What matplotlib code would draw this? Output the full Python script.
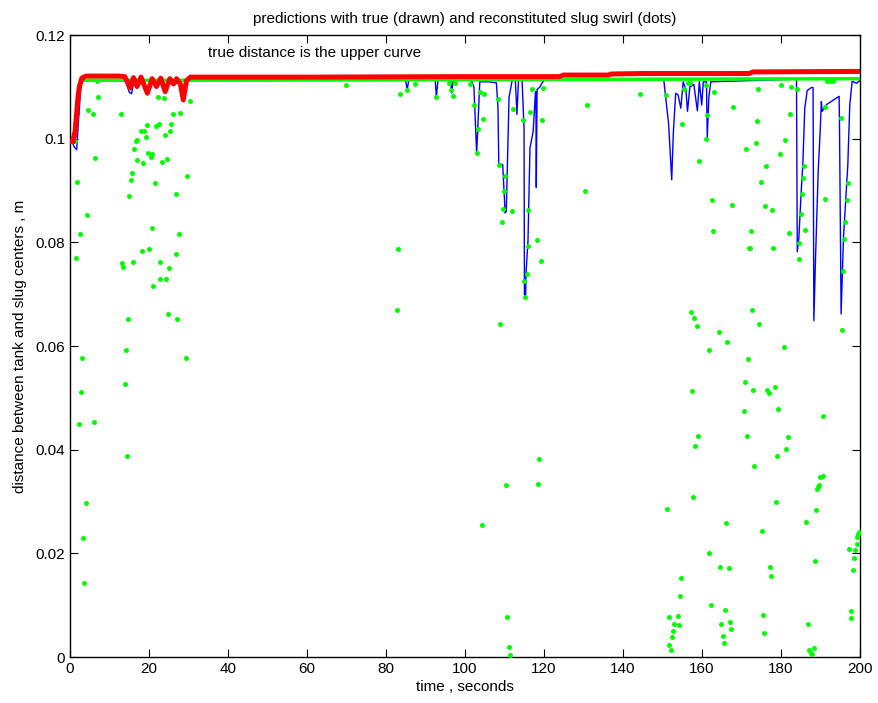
import matplotlib
matplotlib.use("Agg")
import matplotlib.pyplot as plt

plt.rcParams['font.family'] = ['Liberation Sans', 'DejaVu Sans']

# true distance (red, drawn)
true_t = [0.3, 0.7, 1.0, 1.3, 1.5, 1.7, 1.9, 2.1, 2.4, 3.0, 4.0, 12.5, 13.9, 15.2, 16.1,
          17.0, 18.0, 19.6, 20.8, 21.9, 23.0, 24.1, 25.3, 26.2, 27.0, 28.0, 28.7, 29.5,
          30.5, 60, 100, 124, 125, 136.5, 137, 145, 172, 173, 200]
true_v = [0.0995, 0.0995, 0.1005, 0.1014, 0.1033, 0.1050, 0.1069, 0.1085, 0.1101, 0.1117,
          0.1121, 0.1121, 0.1120, 0.1098, 0.1118, 0.1101, 0.1119, 0.1088, 0.1116, 0.1101,
          0.1117, 0.1091, 0.1116, 0.1106, 0.1116, 0.1105, 0.1075, 0.1112, 0.1119, 0.1119,
          0.1120, 0.1120, 0.1123, 0.1123, 0.1125, 0.1126, 0.1126, 0.1129, 0.1130]

# predicted distance (blue line)
pred_t = [0.3, 1.0, 1.7, 2.2, 2.8, 3.5, 12.5, 14.2, 15.0, 15.6, 16.2, 17.0, 18.0, 19.6,
          20.8, 21.9, 23.0, 24.1, 25.3, 26.5, 27.5, 28.7, 29.6, 30.5, 85.0, 85.4, 85.8,
          92.5, 92.8, 93.2, 96.4, 96.7, 97.0, 101.6, 102.3, 103.0, 103.8, 106.0, 108.0,
          108.4, 108.6, 109.6, 110.0, 110.2, 110.5, 111.2, 112.0, 112.8, 113.2, 113.6,
          114.5, 115.0, 115.1, 115.4, 115.5, 116.0, 116.5, 117.3, 117.9, 118.0, 118.1,
          118.3, 119.0, 120.0, 150.4, 150.8, 151.6, 152.4, 152.8, 153.4, 154.0,
          154.7, 155.3, 156.0, 156.4, 157.0, 158.0, 158.9, 159.4, 160.0, 160.4, 161.2,
          161.4, 161.8, 162.3, 184.0, 184.2, 184.6, 185.2, 185.6, 186.1, 186.7, 187.8,
          188.2, 188.4, 188.8, 189.5, 190.0, 190.3, 190.5, 191.6, 194.8, 194.9, 195.3,
          195.9, 197.0, 197.5, 198.1, 199.2, 200]
pred_v = [0.1000, 0.0985, 0.0979, 0.1040, 0.1105, 0.1113, 0.1113, 0.1110, 0.1090, 0.1087,
          0.1112, 0.1098, 0.1112, 0.1085, 0.1110, 0.1098, 0.1112, 0.1093, 0.1110, 0.1104,
          0.1112, 0.1078, 0.1110, 0.1113, 0.1113, 0.1095, 0.1113, 0.1113, 0.1081, 0.1113,
          0.1113, 0.1088, 0.1113, 0.1113, 0.1100, 0.0972, 0.1110, 0.1110, 0.1108, 0.1059,
          0.0952, 0.0950, 0.0890, 0.0857, 0.0860, 0.1080, 0.1113, 0.1113, 0.1047, 0.1113,
          0.1113, 0.1020, 0.0700, 0.0694, 0.0740, 0.0803, 0.0982, 0.1014, 0.1091, 0.1091,
          0.0906, 0.1095, 0.1100, 0.1113, 0.1113, 0.1085, 0.1030, 0.0921, 0.1010,
          0.1088, 0.1085, 0.1059, 0.1110, 0.1095, 0.1053, 0.1100, 0.1105, 0.1054, 0.1110,
          0.1065, 0.1110, 0.1110, 0.1002, 0.1080, 0.1110, 0.1115, 0.0782, 0.0809, 0.0899,
          0.0950, 0.1059, 0.1093, 0.1099, 0.1099, 0.0649, 0.0764, 0.0938, 0.1014, 0.1072,
          0.1053, 0.1066, 0.1082, 0.1021, 0.0662, 0.0809, 0.0950, 0.1066, 0.1111, 0.1107,
          0.1112]

# dense band of reconstituted dots just under the true curve
band_t = [3.0, 13.0, 30.0, 100.0, 150.0, 200.0]
band_v = [0.1113, 0.1113, 0.1113, 0.1114, 0.1115, 0.1116]

# scattered reconstituted dots (green)
dot_t = [0.7, 1.3, 6.75, 4.6, 5.9, 12.9, 7.0, 6.3, 22.2, 23.9, 27.8, 26.2, 25.6, 22.5,
         21.9, 19.6, 18.1, 18.7, 25.3, 24.1, 19.2, 17.1, 16.7, 16.2, 19.8, 20.9, 20.4,
         24.6, 16.9, 18.6, 1.85, 15.6, 15.4, 23.4, 29.7, 21.6, 15.0, 26.9, 4.2, 2.5,
         20.8, 27.6, 1.5, 18.3, 20.1, 26.8, 13.2, 13.5, 15.9, 22.7, 25.2, 22.8, 24.3,
         21.1, 14.8, 24.9, 27.2, 14.1, 3.0, 29.4, 2.7, 13.9, 2.2, 6.0, 14.4, 3.97, 3.4,
         3.6, 30.4,
         70.0, 82.8, 83.0, 83.5, 85.4, 87.4, 92.8,
         96.0, 97.5, 101.3, 97.0, 96.6, 102.4, 104.5, 103.4, 103.0, 103.8, 104.9, 108.4,
         112.3, 108.7, 110.2, 110.0, 109.6, 112.0, 109.3, 109.0, 114.7, 116.5, 119.6,
         116.9, 119.8, 116.1, 115.9, 118.3, 119.2, 115.7, 115.0, 115.3, 118.8, 110.5,
         118.6, 104.3, 110.8, 111.1, 111.5,
         131.0, 130.5, 144.4,
         150.9, 155.1, 155.4, 156.5, 157.0, 161.0, 163.2, 161.4, 161.1, 159.3, 167.9,
         171.2, 162.6, 167.7, 162.9, 171.9, 157.2, 158.1, 158.7, 164.4, 166.4, 161.8,
         171.8, 170.9, 157.6, 170.6, 159.0, 171.5, 158.4, 157.8, 151.2, 166.2, 161.9,
         164.6, 166.8, 154.8, 154.5, 162.3, 165.9, 151.6, 153.9, 153.1, 154.3, 164.9,
         167.1, 152.7, 167.4, 152.4, 165.3, 151.8, 165.7, 152.1,
         174.3, 180.0, 182.6, 184.1, 191.7, 192.5, 193.3, 191.3, 182.4, 195.2, 174.0,
         181.2, 173.7, 179.7, 176.3, 186.0, 185.6, 174.9, 197.0, 185.4, 191.1, 196.8,
         176.0, 177.8, 185.1, 196.4, 172.6, 182.0, 186.2, 196.1, 172.3, 178.1, 184.7,
         184.6, 195.8, 172.8, 174.6, 195.5, 180.8,
         173.0, 176.6, 178.5, 177.0, 179.3, 190.7, 181.9, 181.4, 179.1, 173.3, 190.0,
         190.6, 189.7, 189.5, 189.2, 178.8, 188.9, 186.5, 175.2, 199.8, 199.6, 199.3,
         199.2, 198.8, 197.3, 198.6, 198.2, 188.7, 177.3, 177.5, 197.9, 197.7, 175.5,
         186.8, 175.7, 187.2, 188.4, 187.6, 188.0]
dot_v = [0.1002, 0.0995, 0.1111, 0.1056, 0.1047, 0.1047, 0.1081, 0.0963, 0.1080, 0.1078,
         0.1050, 0.1047, 0.1028, 0.1028, 0.1024, 0.1027, 0.1016, 0.1016, 0.1016, 0.1007,
         0.1003, 0.0998, 0.0995, 0.0981, 0.0973, 0.0971, 0.0964, 0.0961, 0.0959, 0.0953,
         0.0916, 0.0934, 0.0920, 0.0955, 0.0929, 0.0914, 0.0890, 0.0894, 0.0853, 0.0816,
         0.0828, 0.0817, 0.0770, 0.0784, 0.0788, 0.0778, 0.0761, 0.0753, 0.0762, 0.0763,
         0.0750, 0.0730, 0.0730, 0.0716, 0.0653, 0.0661, 0.0653, 0.0593, 0.0577, 0.0577,
         0.0511, 0.0527, 0.0449, 0.0454, 0.0388, 0.0298, 0.0230, 0.0143, 0.1073,
         0.1103, 0.0670, 0.0788, 0.1087, 0.1095, 0.1105, 0.1081,
         0.1107, 0.1107, 0.1106, 0.1082, 0.1095, 0.1066, 0.1039, 0.1019, 0.0972, 0.1091,
         0.1087, 0.1076, 0.1057, 0.0950, 0.0929, 0.0900, 0.0865, 0.0860, 0.0840, 0.0642,
         0.1036, 0.1052, 0.1036, 0.1096, 0.1098, 0.0862, 0.0793, 0.0805, 0.0764, 0.0739,
         0.0726, 0.0694, 0.0382, 0.0332, 0.0334, 0.0255, 0.0077, 0.0020, 0.0003,
         0.1066, 0.0899, 0.1086,
         0.1085, 0.1029, 0.1097, 0.1107, 0.1108, 0.1103, 0.1090, 0.1045, 0.1000, 0.0958,
         0.1061, 0.0981, 0.0882, 0.0872, 0.0822, 0.0790, 0.0665, 0.0655, 0.0638, 0.0627,
         0.0607, 0.0593, 0.0576, 0.0530, 0.0514, 0.0474, 0.0427, 0.0426, 0.0407, 0.0309,
         0.0286, 0.0259, 0.0200, 0.0174, 0.0172, 0.0153, 0.0118, 0.0100, 0.0091, 0.0077,
         0.0080, 0.0063, 0.0061, 0.0064, 0.0067, 0.0051, 0.0054, 0.0038, 0.0041, 0.0023,
         0.0028, 0.0013,
         0.1097, 0.1104, 0.1100, 0.1097, 0.1112, 0.1112, 0.1112, 0.1061, 0.1047, 0.1040,
         0.1034, 0.0998, 0.0992, 0.0970, 0.0947, 0.0948, 0.0925, 0.0916, 0.0915, 0.0893,
         0.0884, 0.0882, 0.0871, 0.0863, 0.0854, 0.0839, 0.0822, 0.0819, 0.0824, 0.0806,
         0.0790, 0.0790, 0.0798, 0.0768, 0.0744, 0.0670, 0.0643, 0.0632, 0.0598,
         0.0515, 0.0516, 0.0521, 0.0509, 0.0478, 0.0465, 0.0424, 0.0402, 0.0388, 0.0368,
         0.0348, 0.0350, 0.0332, 0.0328, 0.0324, 0.0299, 0.0283, 0.0260, 0.0244, 0.0241,
         0.0237, 0.0231, 0.0219, 0.0207, 0.0209, 0.0192, 0.0168, 0.0186, 0.0173, 0.0157,
         0.0089, 0.0075, 0.0082, 0.0064, 0.0047, 0.0014, 0.0018, 0.0008, 0.0005]

x_ticks = [0, 20, 40, 60, 80, 100, 120, 140, 160, 180, 200]
y_ticks = [0, 0.02, 0.04, 0.06, 0.08, 0.1, 0.12]
y_labels = ['0', '0.02', '0.04', '0.06', '0.08', '0.1', '0.12']

fig = plt.figure(figsize=(8.79, 7.03), dpi=100)
ax = fig.add_axes([0.0796, 0.0654, 0.8984, 0.8846])

ax.plot(pred_t, pred_v, color='#0000ff', linewidth=1.0, zorder=2)
ax.plot(band_t, band_v, color='#00ff00', linewidth=2.5, zorder=3)
ax.plot(dot_t, dot_v, 'o', color='#00ff00', markersize=3.6, markeredgewidth=0, zorder=3)
ax.plot(true_t, true_v, color='#ff0000', linewidth=3.6, zorder=4)
ax.plot(true_t[:10], true_v[:10], 'o', color='#ff0000', markersize=3.5,
        markeredgewidth=0, zorder=4)

ax.text(35, 0.1157, 'true distance is the upper curve', fontsize=11)

ax.set_xlim(0, 200)
ax.set_ylim(0, 0.12)
ax.set_xticks(x_ticks)
ax.set_yticks(y_ticks)
ax.set_yticklabels(y_labels)
ax.tick_params(direction='in', top=True, right=True, labelsize=11, length=6)
for s in ax.spines.values():
    s.set_linewidth(1.0)

ax.set_title('predictions with true (drawn) and reconstituted slug swirl (dots)',
             fontsize=11, pad=9)
ax.set_xlabel('time , seconds', fontsize=11, labelpad=3)
ax.set_ylabel('distance between tank and slug centers , m', fontsize=11, labelpad=6)

fig.savefig('out.png', dpi=100)
